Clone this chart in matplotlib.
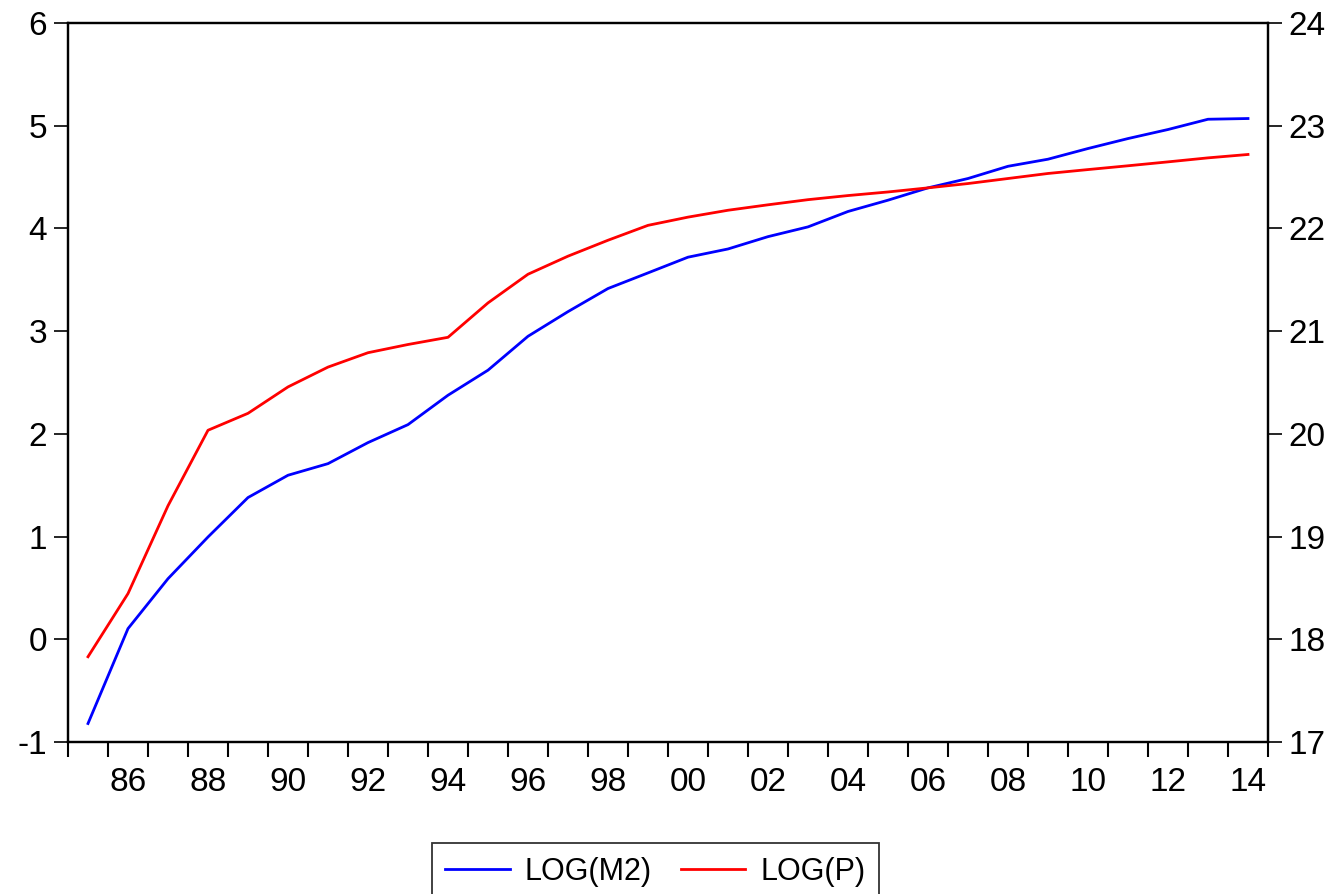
import numpy as np
import matplotlib.pyplot as plt
from matplotlib.ticker import FixedLocator, FixedFormatter

plt.rcParams['font.family'] = ['Liberation Sans', 'DejaVu Sans']

# Datos (1985-2014)
years = list(range(1985, 2015))
log_p = [-0.17, 0.445, 1.30, 2.035, 2.20, 2.457, 2.65, 2.79, 2.87, 2.94,
         3.275, 3.554, 3.73, 3.885, 4.03, 4.11, 4.177, 4.23, 4.28, 4.32,
         4.355, 4.395, 4.437, 4.486, 4.535, 4.573, 4.61, 4.648, 4.687, 4.72]
log_m2 = [17.18, 18.104, 18.59, 18.996, 19.38, 19.597, 19.71, 19.915, 20.09, 20.376,
          20.62, 20.95, 21.19, 21.415, 21.567, 21.72, 21.80, 21.92, 22.015, 22.165,
          22.275, 22.395, 22.486, 22.605, 22.674, 22.778, 22.875, 22.963, 23.063, 23.07]
left_ticks = [-1, 0, 1, 2, 3, 4, 5, 6]
right_ticks = [17, 18, 19, 20, 21, 22, 23, 24]
year_labels = [str(y)[-2:] for y in years if y % 2 == 0]

fig = plt.figure(figsize=(13.35, 8.94), dpi=100)
ax = fig.add_axes([68/1335, 1 - 742/894, 1200/1335, 719/894])
ax2 = ax.twinx()

l1, = ax2.plot(years, log_m2, color='#0000ff', lw=2.0, label='LOG(M2)')
l2, = ax.plot(years, log_p, color='#ff0000', lw=2.0, label='LOG(P)')
ax.set_zorder(ax2.get_zorder() + 1)
ax.patch.set_visible(False)

ax.set_xlim(years[0] - 0.5, years[-1] + 0.5)
ax.set_ylim(left_ticks[0], left_ticks[-1])
ax2.set_ylim(right_ticks[0], right_ticks[-1])
ax.set_yticks(left_ticks)
ax2.set_yticks(right_ticks)
ax.set_yticklabels([str(t) for t in left_ticks])
ax2.set_yticklabels([str(t) for t in right_ticks])

# x: ticks entre años, etiquetas cada dos años
even = [y for y in years if y % 2 == 0]
ax.xaxis.set_major_locator(FixedLocator(even))
ax.xaxis.set_major_formatter(FixedFormatter(year_labels))
ax.xaxis.set_minor_locator(FixedLocator(np.arange(years[0] - 0.5, years[-1] + 1, 1)))
ax.tick_params(axis='x', which='major', length=0, pad=18, labelsize=24)
ax.tick_params(axis='x', which='minor', length=11, width=1.5, direction='out')
ax.tick_params(axis='y', length=10, width=1.2, pad=5, labelsize=24, direction='out')
ax2.tick_params(axis='y', length=10, width=1.2, pad=5, labelsize=24, direction='out')

for a in (ax, ax2):
    for s in a.spines.values():
        s.set_linewidth(1.6)

leg = fig.legend(handles=[l1, l2], loc='upper center', bbox_to_anchor=(0.491, 1 - 843/894),
                 ncol=2, fontsize=22, frameon=True, fancybox=False, handlelength=2.1,
                 handletextpad=0.5, columnspacing=0.95, borderpad=0.45, borderaxespad=0)
leg.get_frame().set_edgecolor('black')
leg.get_frame().set_linewidth(1.3)

fig.savefig('out.png', dpi=100)
